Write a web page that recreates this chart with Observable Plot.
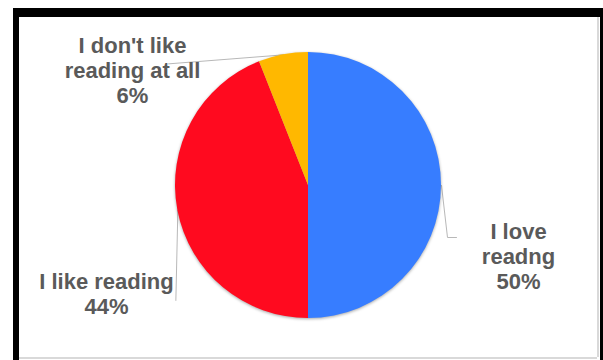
<!DOCTYPE html>
<html><head><meta charset="utf-8">
<script src="https://cdn.jsdelivr.net/npm/d3@7"></script>
<script src="https://cdn.jsdelivr.net/npm/@observablehq/plot@0.6"></script>
<style>
html,body{margin:0;padding:0;background:#fff;}
#wrap{position:relative;width:603px;height:360px;overflow:hidden;background:#fff;}
#wrap svg{position:absolute;left:0;top:0;}
.bar{position:absolute;}
</style></head><body>
<div id="wrap"></div>
<script>
// ---- data ----
const categories = ["I love readng", "I like reading", "I don't like reading at all"];
const labelLines = [["I love", "readng"], ["I like reading"], ["I don't like", "reading at all"]];
const percents = [50, 44, 6];
const colors = ["#377dff", "#ff0a1f", "#ffb800"];

// ---- layout (pixel space) ----
const W = 603, H = 360;
const center = [308, 185], radius = 133;
// leader line: offsets from slice edge point at mid-angle
const leaderOffsets = [
  [[0, 0], [6, 52], [15, 52]],
  [[0, 0], [-2, 90]],
  [[0, 0], [-115, 9]]
];
// label anchor: center x, baseline of last line
const labelPos = [[518, 288], [106, 313], [132, 102]];
const fontSize = 22, lineGap = 25;

const data = categories.map((c, i) => ({category: c, value: percents[i]}));
const colorScale = Plot.scale({color: {type: "ordinal", domain: categories, range: colors}});
const arcs = d3.pie().sort(null).value(d => d.value)(data);

const leaders = [];
arcs.forEach((a, i) => {
  const mid = (a.startAngle + a.endAngle) / 2;
  const ex = center[0] + radius * Math.sin(mid);
  const ey = center[1] - radius * Math.cos(mid);
  leaderOffsets[i].forEach(([dx, dy]) => leaders.push({category: data[i].category, x: ex + dx, y: ey + dy}));
});

const labels = data.map((d, i) => ({
  text: [...labelLines[i], `${d.value}%`].join("\n"),
  x: labelPos[i][0], y: labelPos[i][1]
}));

const pieMark = (index, scales) => {
  const cx = scales.x(center[0]), cy = scales.y(center[1]);
  const r = scales.x(center[0] + radius) - cx;
  const g = d3.create("svg:g")
    .attr("transform", `translate(${cx},${cy})`)
    .style("filter", "drop-shadow(0px 1px 1.5px rgba(0,0,0,0.35))");
  g.selectAll("path").data(arcs).join("path")
    .attr("d", d3.arc().innerRadius(0).outerRadius(r))
    .attr("fill", d => colorScale.apply(d.data.category));
  return g.node();
};

const chart = Plot.plot({
  width: W, height: H,
  margin: 0,
  x: {domain: [0, W], range: [0, W], axis: null},
  y: {domain: [0, H], range: [0, H], axis: null},
  style: {background: "transparent", overflow: "visible"},
  marks: [
    Plot.line(leaders, {x: "x", y: "y", z: "category", stroke: "#b8b8b8", strokeWidth: 1}),
    pieMark,
    Plot.text(labels, {
      x: "x", y: "y", text: "text",
      textAnchor: "middle", lineAnchor: "bottom", lineHeight: lineGap / fontSize,
      fontSize: fontSize, fontWeight: "bold",
      fontFamily: "Liberation Sans, Arial, sans-serif",
      fill: "#5a5a5a"
    })
  ]
});

const wrap = document.getElementById("wrap");
wrap.appendChild(chart);
// frame bars
function bar(l, t, w, h, c) {
  const d = document.createElement("div");
  d.className = "bar";
  Object.assign(d.style, {left: l + "px", top: t + "px", width: w + "px", height: h + "px", background: c});
  wrap.appendChild(d);
}
bar(13, 8, 590, 9, "#000");   // top
bar(13, 8, 6, 352, "#000");   // left
bar(600, 8, 3, 352, "#000");  // right
bar(597, 17, 2, 340, "#d9d9d9");
bar(19, 357, 578, 2, "#d9d9d9");
</script>
</body></html>
